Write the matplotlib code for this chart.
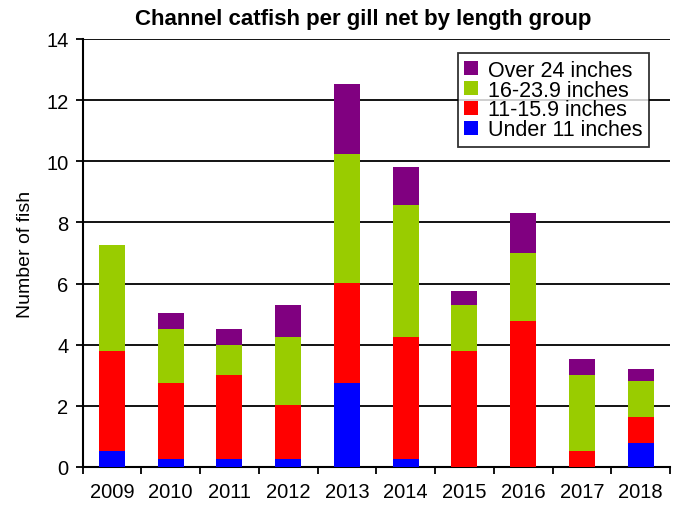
import matplotlib.pyplot as plt
import numpy as np

plt.rcParams['font.family'] = ['Liberation Sans', 'DejaVu Sans']

years = ['2009', '2010', '2011', '2012', '2013', '2014', '2015', '2016', '2017', '2018']
under_11 = [0.52, 0.25, 0.25, 0.25, 2.74, 0.25, 0, 0, 0, 0.78]
in_11_15 = [3.28, 2.49, 2.75, 1.77, 3.28, 4.0, 3.79, 4.77, 0.51, 0.85]
in_16_23 = [3.46, 1.77, 0.98, 2.23, 4.22, 4.31, 1.5, 2.23, 2.49, 1.18]
over_24 = [0, 0.52, 0.53, 1.04, 2.29, 1.24, 0.46, 1.31, 0.53, 0.39]

series = [
    ('Under 11 inches', under_11, '#0000ff'),
    ('11-15.9 inches', in_11_15, '#ff0000'),
    ('16-23.9 inches', in_16_23, '#99cc00'),
    ('Over 24 inches', over_24, '#800080'),
]

fig = plt.figure(figsize=(6.76, 5.1), dpi=100)
ax = fig.add_axes([82.5 / 676, 42 / 510, (670 - 82.5) / 676, (468 - 40) / 510])

x = np.arange(len(years))
bottom = np.zeros(len(years))
handles = []
for label, vals, color in series:
    b = ax.bar(x, vals, 0.44, bottom=bottom, color=color, label=label, zorder=3)
    handles.append(b)
    bottom += np.array(vals)

ax.set_xlim(-0.5, len(years) - 0.5)
ax.set_ylim(0, 14)
ax.set_yticks(range(0, 15, 2))
ax.yaxis.grid(True, color='black', linewidth=1.3, zorder=0)
ax.set_axisbelow(True)

ax.set_xticks(x)
ax.set_xticklabels(years, fontsize=14.5)
ax.set_xticks(np.arange(-0.5, len(years)), minor=True)
ax.tick_params(axis='x', which='major', length=0, pad=11)
ax.tick_params(axis='x', which='minor', length=5, width=1.3, direction='out')
ax.tick_params(axis='y', labelsize=14.5, length=5, width=1.3, direction='out', pad=5)

for s in ['top', 'right']:
    ax.spines[s].set_visible(False)
for s in ['left', 'bottom']:
    ax.spines[s].set_linewidth(1.5)

ax.set_ylabel('Number of fish', fontsize=14, labelpad=9)
ax.set_title('Channel catfish per gill net by length group', fontsize=16,
             fontweight='bold', pad=11, x=0.477)

leg = ax.legend(handles[::-1], [s[0] for s in series][::-1], loc='upper right',
                bbox_to_anchor=(0.964, 0.967), fontsize=15.5, frameon=True,
                fancybox=False, edgecolor='black', labelspacing=-0.05,
                handlelength=0.65, handleheight=0.65, handletextpad=0.45,
                borderpad=0.3, borderaxespad=0)
leg.get_frame().set_linewidth(1.3)
# widen the box a bit on the left like the original
leg._legend_box.align = 'right'
for txt in leg.get_texts():
    txt.set_text(txt.get_text())

fig.savefig('out.png', dpi=100)
